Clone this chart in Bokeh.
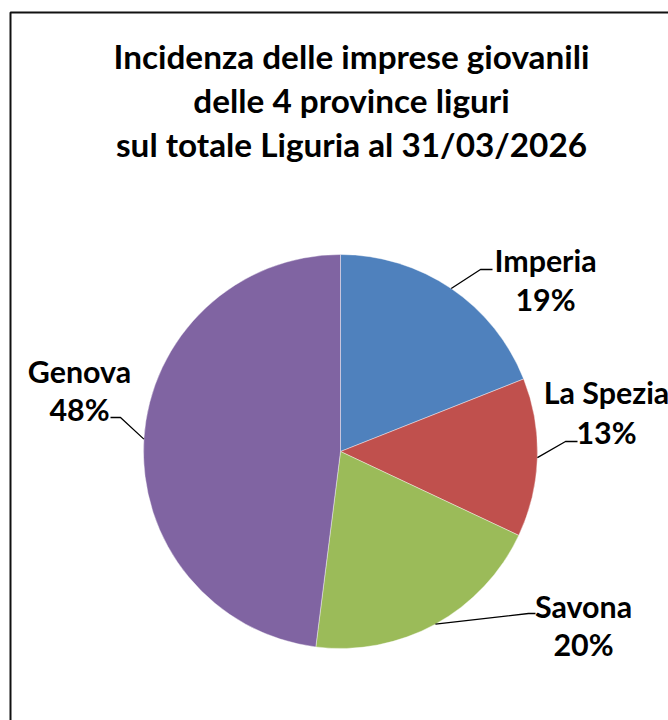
import math
from bokeh.plotting import figure
from bokeh.models import Range1d, ColumnDataSource
from bokeh.core.properties import value
from bokeh.embed import file_html
from bokeh.resources import INLINE

# ---- data ----
provinces = ["Imperia", "La Spezia", "Savona", "Genova"]
shares = [19, 13, 20, 48]
colors = ["#4F81BD", "#C0504D", "#9BBB59", "#8064A2"]
title_lines = ["Incidenza delle imprese giovanili",
               "delle 4 province liguri",
               "sul totale Liguria al 31/03/2026"]

# ---- layout (page pixels; converted below) ----
W, H = 668, 720
FONT = "Lato"
TITLE_DY = -9.5    # correction for the renderer's text baseline
LABEL_DY = -12.0

def sx(x):
    return x

def sy(y):
    return H - y

p = figure(width=W, height=H, output_backend="svg", toolbar_location=None,
           x_range=Range1d(0, W), y_range=Range1d(0, H),
           min_border=0)
p.axis.visible = False
p.grid.visible = False
p.outline_line_color = None
p.background_fill_color = "white"
p.border_fill_color = "white"

# chart border (left and top visible, rest runs off the page)
p.line(x=[sx(10), sx(10), sx(700)], y=[sy(760), sy(12), sy(12)],
       line_color="#111111", line_width=2)

# title
title_baselines = [65, 109, 153]
p.text(x=[sx(351)] * 3, y=[sy(b + TITLE_DY) for b in title_baselines], text=title_lines,
       text_font=value(FONT), text_font_style="bold", text_font_size="33.3px",
       text_align="center", text_baseline="alphabetic", text_color="black")

# pie
cx, cy, r = sx(340), sy(451), 197
total = float(sum(shares))
starts, ends, mids = [], [], []
acc = 0.0
for s in shares:
    a0 = math.pi / 2 - 2 * math.pi * acc / total
    acc += s
    a1 = math.pi / 2 - 2 * math.pi * acc / total
    starts.append(a1)
    ends.append(a0)
    mids.append((a0 + a1) / 2)

src = ColumnDataSource(dict(start=starts, end=ends, color=colors, name=provinces))
p.wedge(x=cx, y=cy, radius=r, start_angle="start", end_angle="end",
        fill_color="color", line_color="white", line_width=0.4, source=src)

# leader lines: edge point at slice mid-angle -> elbow -> short horizontal
elbows = [((480, 269), (492, 269)),
          ((565, 441), (577, 441)),
          ((528, 613), (535, 613)),
          ((120, 417), (110, 417))]
for m, (e1, e2) in zip(mids, elbows):
    x0 = cx + r * math.cos(m)
    y0 = cy + r * math.sin(m)
    p.line(x=[x0, sx(e1[0]), sx(e2[0])], y=[y0, sy(e1[1]), sy(e2[1])],
           line_color="black", line_width=1.3)

# data labels
label_pos = [(545, 271, 310), (606, 403, 443), (583, 617, 655), (79, 382, 420)]
lx = [sx(a) for a, _, _ in label_pos]
p.text(x=lx, y=[sy(b + LABEL_DY) for _, b, _ in label_pos], text=provinces,
       text_font=value(FONT), text_font_style="bold", text_font_size="30.4px",
       text_align="center", text_baseline="alphabetic", text_color="black")
p.text(x=lx, y=[sy(c + LABEL_DY) for _, _, c in label_pos], text=[f"{s}%" for s in shares],
       text_font=value(FONT), text_font_style="bold", text_font_size="30.4px",
       text_align="center", text_baseline="alphabetic", text_color="black")

open("out.html", "w").write(file_html(p, INLINE))
